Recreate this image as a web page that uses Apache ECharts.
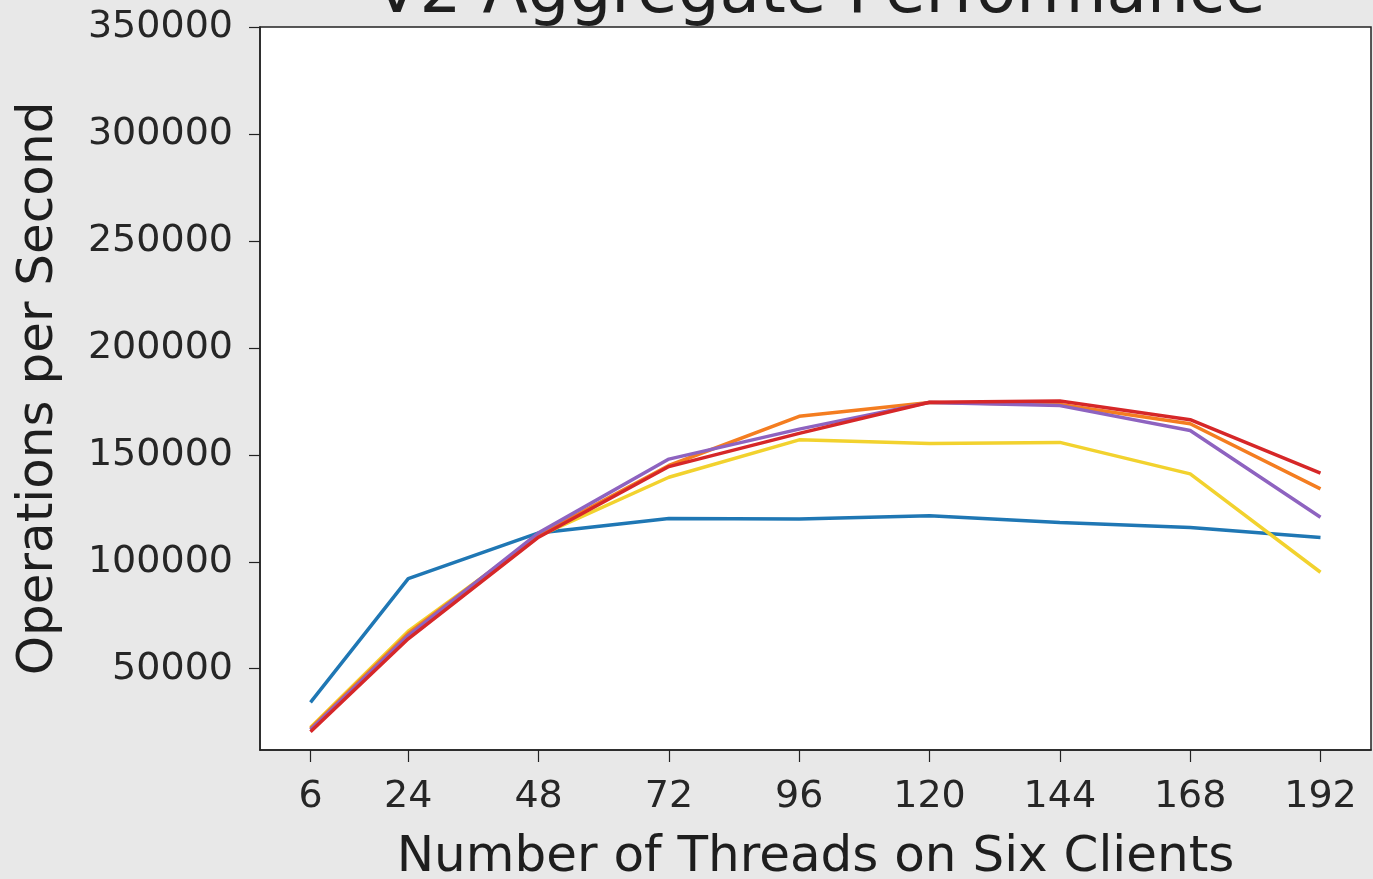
<!DOCTYPE html>
<html>
<head>
<meta charset="utf-8">
<script src="https://cdn.jsdelivr.net/npm/echarts@6/dist/echarts.min.js"></script>
<style>
html,body{margin:0;padding:0;background:#e8e8e8;}
#chart{width:1373px;height:879px;}
</style>
</head>
<body>
<div id="chart"></div>
<script>
const threads = [6, 24, 48, 72, 96, 120, 144, 168, 192];
const yTicks = [50000, 100000, 150000, 200000, 250000, 300000, 350000];
const seriesBlue   = [34300, 92100, 113500, 120200, 120000, 121500, 118300, 116000, 111300];
const seriesYellow = [22500, 67500, 112000, 139500, 157000, 155300, 155800, 141100, 95100];
const seriesOrange = [22000, 66500, 112500, 145000, 168000, 174500, 173500, 164500, 134100];
const seriesPurple = [21500, 65500, 113500, 148000, 162000, 174500, 173000, 161400, 120800];
const seriesRed    = [20500, 64000, 111500, 144500, 160000, 174600, 175200, 166400, 141400];

const names = ['blue', 'yellow', 'orange', 'purple', 'red'];
const colors = ['#1f77b4', '#f2d22e', '#f47d20', '#8e63c0', '#d62728'];
const allSeries = [seriesBlue, seriesYellow, seriesOrange, seriesPurple, seriesRed];

const font = 'DejaVu Sans';
const chart = echarts.init(document.getElementById('chart'), null, {renderer: 'canvas'});
chart.setOption({
  backgroundColor: '#e8e8e8',
  animation: false,
  graphic: [{
    type: 'text',
    x: 820,
    y: -5,
    z: 100,
    style: {
      text: 'V2 Aggregate Performance',
      fontFamily: font,
      fontSize: 66,
      fill: '#1e1e1e',
      textAlign: 'center',
      textVerticalAlign: 'middle'
    }
  }],
  grid: {
    left: 260, right: 2, top: 27, bottom: 129,
    outerBoundsMode: 'none',
    containLabel: false,
    show: true, backgroundColor: '#ffffff', borderColor: '#222', borderWidth: 1.5
  },
  xAxis: {
    type: 'value',
    min: -3.3, max: 201.3,
    name: 'Number of Threads on Six Clients',
    nameLocation: 'middle',
    nameGap: 83,
    nameTextStyle: {fontFamily: font, fontSize: 50, color: '#1e1e1e'},
    axisLine: {show: true, onZero: false, lineStyle: {color: '#222', width: 1.5}},
    axisTick: {show: true, customValues: threads, length: 12, lineStyle: {color: '#222', width: 1.2}},
    axisLabel: {customValues: threads, margin: 28, fontFamily: font, fontSize: 38, color: '#262626'},
    splitLine: {show: false}
  },
  yAxis: {
    type: 'value',
    min: 12000, max: 350000,
    name: 'Operations per Second',
    nameLocation: 'middle',
    nameGap: 196,
    nameTextStyle: {fontFamily: font, fontSize: 50, color: '#1e1e1e'},
    axisLine: {show: true, onZero: false, lineStyle: {color: '#222', width: 1.5}},
    axisTick: {show: true, customValues: yTicks, length: 11, lineStyle: {color: '#222', width: 1.2}},
    axisLabel: {customValues: yTicks, margin: 27, fontFamily: font, fontSize: 38, color: '#262626',
      formatter: v => String(v)},
    splitLine: {show: false}
  },
  series: allSeries.map((vals, i) => ({
    name: names[i],
    type: 'line',
    data: threads.map((t, j) => [t, vals[j]]),
    showSymbol: false,
    symbol: 'none',
    z: 2 + i,
    lineStyle: {color: colors[i], width: 3.5},
    itemStyle: {color: colors[i]}
  }))
});
</script>
</body>
</html>
